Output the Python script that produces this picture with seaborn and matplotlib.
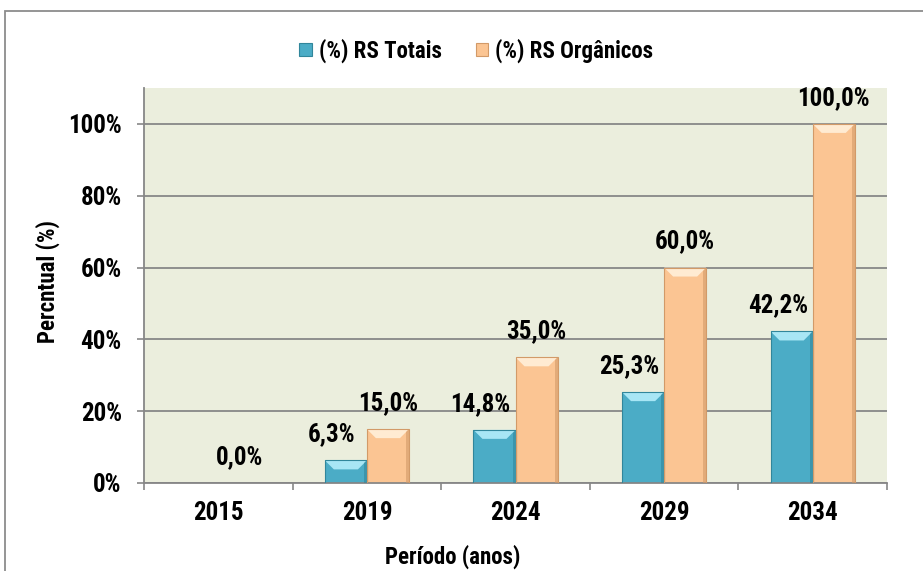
import numpy as np
import pandas as pd
import seaborn as sns
import matplotlib.pyplot as plt
from matplotlib.patches import Polygon, Rectangle

# dados do gráfico
anos = ['2015', '2019', '2024', '2029', '2034']
rs_totais = [0.0, 6.3, 14.8, 25.3, 42.2]
rs_organicos = [0.0, 15.0, 35.0, 60.0, 100.0]
series = ['(%) RS Totais', '(%) RS Orgânicos']
y_ticks = [0, 20, 40, 60, 80, 100]

cores = ['#4BACC6', '#FBC593']
cores_claras = ['#A8E6F5', '#FFEBD2']
cores_escuras = ['#31869B', '#D29A68']

df = pd.DataFrame({
    'ano': anos * 2,
    'valor': rs_totais + rs_organicos,
    'serie': [series[0]] * len(anos) + [series[1]] * len(anos),
})

sns.set_style('white')
plt.rcParams['font.family'] = ['Liberation Sans Narrow', 'DejaVu Sans Condensed',
                               'Roboto Condensed', 'Liberation Sans', 'DejaVu Sans']
plt.rcParams['font.weight'] = 'bold'
for k in ['text.color', 'axes.labelcolor', 'xtick.color', 'ytick.color']:
    plt.rcParams[k] = 'black'

fig = plt.figure(figsize=(9.23, 5.71), dpi=100)
ax = fig.add_axes([144 / 923, 1 - 483 / 571, (887 - 144) / 923, (483 - 88) / 571])
ax.set_facecolor('#EBEEDD')

sns.barplot(data=df, x='ano', y='valor', hue='serie', palette=cores,
            width=0.566, gap=0, ax=ax, saturation=1, edgecolor='none',
            legend=True)

ax.set_ylim(0, 110)
ax.set_xlim(-0.5, 4.5)
ax.set_yticks(y_ticks)
ax.set_yticklabels([f'{t}%' for t in y_ticks], fontsize=18, fontweight='bold')
ax.set_xticklabels(anos, fontsize=18, fontweight='bold')
ax.yaxis.grid(True, color='#878787', linewidth=1.3)
ax.set_axisbelow(True)
ax.tick_params(axis='y', length=5, width=1.2, color='#878787', labelcolor='black',
               pad=11, direction='out', left=True)
ax.tick_params(axis='x', which='major', length=0, pad=13, labelcolor='black')
ax.set_xticks(np.arange(-0.5, 5, 1), minor=True)
ax.tick_params(axis='x', which='minor', length=5, width=1.2, color='#878787', direction='out', bottom=True)
for s in ['top', 'right']:
    ax.spines[s].set_visible(False)
for s in ['left', 'bottom']:
    ax.spines[s].set_color('#878787')
    ax.spines[s].set_linewidth(1.3)

ax.set_xlabel('Período (anos)', fontsize=16.5, fontweight='bold')
ax.set_ylabel('Percntual (%)', fontsize=16.5, fontweight='bold')
ax.xaxis.set_label_coords(0.416, -0.157)
ax.yaxis.set_label_coords(-0.113, 0.51)

# efeito de chanfro (bevel) nas barras
fig.canvas.draw()
inv = ax.transData.inverted()
for k, cont in enumerate(ax.containers):
    for bar in cont:
        x, y, w, h = bar.get_x(), bar.get_y(), bar.get_width(), bar.get_height()
        if h <= 0:
            continue
        (px0, py0), (px1, py1) = ax.transData.transform([(x, y), (x + w, y + h)])
        d = 9
        top = inv.transform([(px0, py1), (px1, py1), (px1 - d, py1 - d), (px0 + d, py1 - d)])
        ax.add_patch(Polygon(top, closed=True, facecolor=cores_claras[k], edgecolor='none', zorder=3))
        rside = inv.transform([(px1, py1), (px1, py0), (px1 - 3, py0), (px1 - 3, py1 - 3)])
        ax.add_patch(Polygon(rside, closed=True, facecolor=cores_escuras[k], edgecolor='none', alpha=0.6, zorder=3))
        ax.add_patch(Rectangle((x, y), w, h, facecolor='none', edgecolor=cores_escuras[k],
                               linewidth=0.8, zorder=4))

# rótulos de valores
for k, cont in enumerate(ax.containers):
    vals = [rs_totais, rs_organicos][k]
    labels = []
    for v in vals:
        if k == 0 and v == 0:
            labels.append('')
        else:
            labels.append(f'{v:.1f}'.replace('.', ',') + '%')
    texts = ax.bar_label(cont, labels=labels, padding=10, fontsize=18, fontweight='bold', color='black')
    if k == 0:
        for t in texts:
            t.xyann = (-10, t.xyann[1])

leg = ax.legend(loc='center', bbox_to_anchor=(0.516, 0.911), bbox_transform=fig.transFigure,
                ncol=2, frameon=False, handlelength=0.55, handleheight=0.55,
                handletextpad=0.3, columnspacing=1.5, prop={'weight': 'bold', 'size': 16.5})
for hnd, c in zip(leg.legend_handles, cores_escuras):
    hnd.set_edgecolor(c)
    hnd.set_linewidth(0.8)

# borda externa do gráfico
fig.patches.append(Rectangle((5 / 923, -0.1), 1.2, 1 - 11 / 571 + 0.1, transform=fig.transFigure,
                             facecolor='none', edgecolor='#8C8C8C', linewidth=1.3))

fig.savefig('out.png', dpi=100)
